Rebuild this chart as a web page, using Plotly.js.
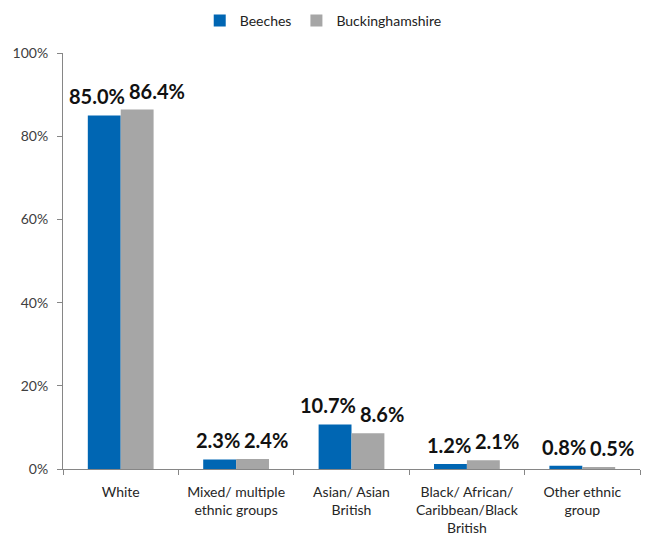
<!DOCTYPE html>
<html>
<head>
<meta charset="utf-8">
<script src="https://cdn.plot.ly/plotly-3.0.1.min.js"></script>
<style>html,body{margin:0;padding:0;background:#fff;}#chart{width:654px;height:536px;}</style>
</head>
<body>
<div id="chart"></div>
<script>
var categories = ["White", "Mixed/ multiple<br>ethnic groups", "Asian/ Asian<br>British", "Black/ African/<br>Caribbean/Black<br>British", "Other ethnic<br>group"];
var beeches = [0.850, 0.023, 0.107, 0.012, 0.008];
var buckinghamshire = [0.864, 0.024, 0.086, 0.021, 0.005];
var seriesNames = ["Beeches", "Buckinghamshire"];

function fmt(v){ return (v*100).toFixed(1) + "%"; }

var labelFont = {family: "Lato, 'Open Sans', sans-serif", size: 20, color: "#111", weight: 700};

var traces = [
  {type: "bar", name: seriesNames[0], x: categories, y: beeches, marker: {color: "#0066B3"}, hoverinfo: "none"},
  {type: "bar", name: seriesNames[1], x: categories, y: buckinghamshire, marker: {color: "#A6A6A6"}, hoverinfo: "none"}
];

var annotations = [];
categories.forEach(function(c, i){
  annotations.push({x: c, y: beeches[i], xref: "x", yref: "y", text: fmt(beeches[i]), showarrow: false,
    xanchor: "right", yanchor: "bottom", xshift: 6, yshift: 5, font: labelFont});
  annotations.push({x: c, y: buckinghamshire[i], xref: "x", yref: "y", text: fmt(buckinghamshire[i]), showarrow: false,
    xanchor: "left", yanchor: "bottom", xshift: 6, yshift: 5, font: labelFont});
});

var layout = {
  width: 654, height: 536,
  margin: {l: 63, r: 14, t: 53, b: 67, autoexpand: false},
  paper_bgcolor: "#fff", plot_bgcolor: "#fff",
  barmode: "group", bargap: 0.43, bargroupgap: 0,
  font: {family: "Lato, 'Open Sans', sans-serif", size: 14, color: "#404040"},
  showlegend: true,
  legend: {orientation: "h", x: 0.451, xanchor: "center", y: 1.077, yanchor: "middle", font: {size: 14, color: "#222"}, itemwidth: 30, traceorder: "normal"},
  annotations: annotations,
  xaxis: {showline: true, linecolor: "#868686", linewidth: 1, ticks: "outside", tickson: "boundaries", ticklen: 5, tickcolor: "#868686", showgrid: false, zeroline: false, ticklabelstandoff: 10, tickfont: {size: 14, color: "#262626"}},
  yaxis: {range: [0, 1], dtick: 0.2, tickformat: ".0%", showline: true, linecolor: "#868686", linewidth: 1, ticks: "outside", ticklen: 5, tickcolor: "#868686", showgrid: false, zeroline: false, ticklabelstandoff: 6, tickfont: {size: 14, color: "#404040"}}
};

Plotly.newPlot("chart", traces, layout, {displayModeBar: false, staticPlot: true});
</script>
</body>
</html>
